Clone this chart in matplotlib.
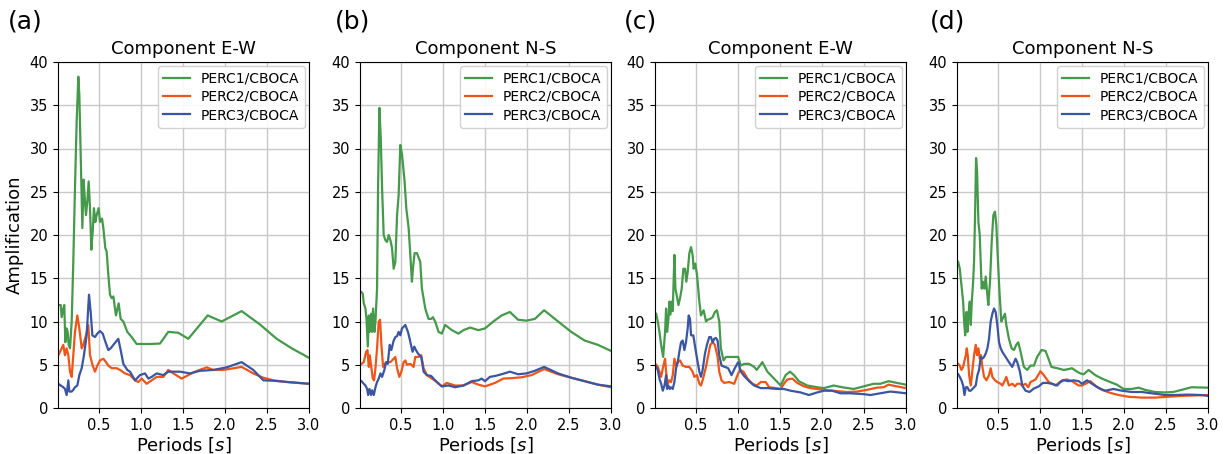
import matplotlib
matplotlib.use("Agg")
import matplotlib.pyplot as plt

# ---------------- data ----------------
# Panel (a) Component E-W
a_p1_t = [0.016,0.044,0.056,0.075,0.087,0.099,0.115,0.127,0.139,0.155,0.175,0.194,0.214,0.234,0.254,0.266,0.282,0.302,0.317,0.333,0.345,0.361,0.377,0.393,0.409,0.425,0.44,0.456,0.472,0.496,0.512,0.536,0.552,0.575,0.591,0.611,0.631,0.651,0.671,0.702,0.734,0.758,0.79,0.837,0.889,0.948,1.107,1.226,1.325,1.444,1.563,1.794,1.96,2.198,2.417,2.615,2.794,3.0]
a_p1_v = [11.9,11.9,10.5,11.5,11.9,7.6,9.2,8.8,7.3,6.9,10.0,16.9,25.4,33.1,38.3,36.2,29.3,20.8,26.4,23.9,22.3,23.9,26.2,23.1,18.3,20.4,23.1,21.5,22.3,23.1,21.5,21.9,20.8,18.5,18.1,15.4,13.1,12.7,12.9,10.7,12.1,10.3,10.0,8.8,8.2,7.4,7.4,7.45,8.8,8.7,8.0,10.7,10.0,11.2,9.65,8.0,6.9,5.8]
a_p2_t = [0.016,0.056,0.075,0.095,0.115,0.135,0.155,0.175,0.194,0.214,0.242,0.266,0.294,0.313,0.345,0.373,0.393,0.425,0.452,0.48,0.512,0.552,0.583,0.611,0.651,0.71,0.75,0.81,0.869,0.929,0.968,1.008,1.067,1.127,1.187,1.266,1.325,1.385,1.484,1.563,1.643,1.782,1.861,1.98,2.198,2.337,2.456,2.575,2.734,3.0]
a_p2_v = [6.1,6.9,7.3,6.1,6.9,6.1,4.2,3.6,6.1,8.8,10.7,9.2,6.9,7.3,8.4,9.6,6.1,4.9,4.2,4.9,5.5,5.7,5.3,4.9,4.6,4.6,4.4,4.0,3.8,3.2,3.0,3.4,2.8,3.2,3.6,3.6,4.4,4.0,3.4,3.8,4.2,4.7,4.4,4.4,4.75,4.0,3.5,3.2,3.0,2.8]
a_p3_t = [0.016,0.044,0.075,0.095,0.115,0.135,0.147,0.175,0.194,0.214,0.242,0.266,0.294,0.321,0.353,0.381,0.401,0.421,0.452,0.48,0.512,0.544,0.571,0.611,0.639,0.671,0.73,0.758,0.79,0.837,0.869,0.929,0.988,1.048,1.087,1.127,1.187,1.266,1.325,1.464,1.583,1.702,1.861,2.02,2.198,2.337,2.456,2.575,3.0]
a_p3_v = [2.8,2.6,2.4,2.2,1.5,3.2,1.9,1.9,2.1,2.4,2.6,3.8,4.6,6.1,8.4,13.1,11.1,8.4,8.2,8.6,8.9,8.6,7.8,6.7,6.9,7.3,8.0,6.7,5.1,4.4,4.2,3.2,3.8,4.0,3.4,3.6,4.0,3.8,4.2,4.2,4.0,4.3,4.4,4.7,5.3,4.4,3.2,3.15,2.8]

# Panel (b) Component N-S
b_p1_t = [0.03,0.045,0.057,0.077,0.089,0.105,0.117,0.128,0.144,0.156,0.168,0.184,0.196,0.215,0.227,0.243,0.259,0.275,0.294,0.314,0.334,0.354,0.374,0.393,0.413,0.433,0.453,0.472,0.492,0.512,0.543,0.563,0.591,0.611,0.63,0.642,0.662,0.69,0.729,0.749,0.789,0.828,0.86,0.879,0.907,0.947,0.986,1.026,1.105,1.184,1.243,1.322,1.421,1.5,1.599,1.698,1.796,1.895,1.994,2.093,2.204,2.37,2.527,2.686,2.844,3.0]
b_p1_v = [13.4,13.2,12.1,11.5,10.3,7.1,10.7,8.8,10.9,8.8,11.5,8.8,10.0,13.8,25.4,34.7,31.2,25.4,20.0,19.4,19.2,20.0,19.4,18.5,16.1,16.9,22.3,24.6,30.4,29.3,26.2,23.1,20.8,17.7,14.6,16.1,17.9,17.9,16.9,13.8,11.5,10.3,10.3,10.5,10.0,8.8,8.6,9.6,9.0,8.6,9.0,9.3,9.0,9.2,10.0,10.7,11.1,10.2,10.1,10.3,11.3,10.0,8.8,7.8,7.3,6.6]
b_p2_t = [0.03,0.057,0.085,0.101,0.117,0.128,0.148,0.164,0.18,0.196,0.215,0.235,0.251,0.267,0.287,0.306,0.334,0.374,0.413,0.433,0.453,0.48,0.504,0.532,0.551,0.571,0.611,0.65,0.67,0.709,0.741,0.769,0.808,0.868,0.927,0.986,1.045,1.144,1.243,1.342,1.421,1.5,1.619,1.717,1.816,1.935,2.053,2.204,2.37,2.527,2.686,2.844,3.0]
b_p2_v = [5.1,5.3,6.5,6.7,4.75,6.1,4.6,3.4,3.2,4.6,6.9,10.0,10.2,7.3,4.75,5.1,5.3,5.3,5.7,5.9,4.6,3.6,4.2,5.3,5.5,5.0,5.1,4.75,5.9,5.9,6.1,4.6,3.8,3.4,3.0,2.5,2.9,2.6,2.6,3.0,2.7,2.5,2.9,3.4,3.45,3.55,3.8,4.5,3.9,3.5,3.1,2.7,2.4]
b_p3_t = [0.03,0.057,0.077,0.097,0.109,0.125,0.144,0.156,0.176,0.196,0.215,0.235,0.255,0.275,0.302,0.322,0.342,0.366,0.385,0.413,0.433,0.453,0.472,0.492,0.512,0.551,0.583,0.603,0.623,0.638,0.658,0.678,0.702,0.741,0.769,0.808,0.86,0.887,0.927,0.986,1.065,1.144,1.243,1.342,1.421,1.46,1.5,1.559,1.619,1.698,1.796,1.895,1.994,2.093,2.204,2.37,2.527,2.686,2.844,3.0]
b_p3_v = [3.1,2.8,2.6,2.2,1.5,2.2,1.5,2.05,1.5,2.4,3.0,3.4,4.0,3.6,4.4,5.3,5.1,7.3,6.7,7.8,8.2,8.3,8.8,8.4,9.2,9.6,8.8,8.0,7.1,6.5,7.1,6.7,6.3,5.9,4.2,3.8,3.7,3.4,3.0,2.5,2.6,2.4,2.6,3.1,3.2,3.4,3.1,3.6,3.7,3.9,4.2,3.9,4.0,4.3,4.75,4.0,3.5,3.1,2.7,2.5]

# Panel (c) Component E-W
c_p1_t = [0.026,0.045,0.065,0.085,0.109,0.132,0.144,0.156,0.172,0.184,0.196,0.211,0.223,0.243,0.255,0.271,0.291,0.31,0.33,0.35,0.37,0.385,0.401,0.421,0.441,0.46,0.472,0.492,0.512,0.54,0.559,0.591,0.619,0.638,0.67,0.698,0.725,0.749,0.777,0.796,0.828,0.856,0.915,1.002,1.034,1.073,1.132,1.192,1.223,1.29,1.35,1.429,1.508,1.567,1.619,1.666,1.725,1.824,1.943,2.022,2.14,2.239,2.377,2.496,2.615,2.694,2.792,2.891,3.0]
c_p1_v = [10.9,10.0,8.8,7.3,5.9,8.8,11.5,8.8,10.3,12.3,10.8,12.3,11.2,17.7,13.8,13.0,11.9,12.7,13.8,16.1,16.1,14.6,15.7,17.9,18.6,17.7,16.1,16.7,15.4,12.3,10.7,11.3,10.0,10.2,10.3,10.5,11.1,11.3,10.0,6.9,5.5,5.9,5.9,5.9,4.9,5.1,5.1,4.75,4.4,5.3,4.2,3.4,2.6,3.8,4.2,3.8,3.1,2.6,2.4,2.3,2.6,2.4,2.2,2.5,2.8,2.8,3.1,2.9,2.7]
c_p2_t = [0.026,0.045,0.065,0.085,0.105,0.132,0.144,0.164,0.184,0.204,0.223,0.243,0.263,0.283,0.31,0.342,0.381,0.421,0.46,0.48,0.512,0.54,0.559,0.579,0.619,0.646,0.67,0.698,0.725,0.757,0.777,0.804,0.836,0.895,0.955,1.002,1.026,1.065,1.113,1.172,1.223,1.271,1.33,1.37,1.449,1.508,1.547,1.587,1.646,1.706,1.785,1.864,1.943,2.061,2.18,2.298,2.417,2.536,2.654,2.733,2.792,2.891,3.0]
c_p2_v = [5.0,4.75,4.2,3.6,4.6,5.7,4.2,2.8,3.2,3.0,3.8,5.7,4.9,5.3,5.5,4.9,4.75,4.75,4.2,3.6,3.8,2.8,2.6,3.2,4.75,6.1,7.3,7.6,7.3,5.9,4.2,3.2,2.9,3.0,2.8,4.0,4.4,4.2,3.4,2.8,2.6,3.0,3.0,2.4,2.3,2.2,2.8,3.3,3.4,2.9,2.5,2.3,2.2,2.05,1.95,1.85,1.9,2.1,2.35,2.4,2.7,2.5,2.3]
c_p3_t = [0.026,0.045,0.065,0.085,0.105,0.125,0.144,0.156,0.172,0.188,0.204,0.223,0.243,0.263,0.283,0.302,0.322,0.342,0.362,0.381,0.401,0.413,0.429,0.441,0.468,0.492,0.52,0.54,0.559,0.579,0.607,0.63,0.658,0.678,0.698,0.717,0.737,0.757,0.777,0.804,0.844,0.883,0.923,0.962,1.002,1.034,1.073,1.132,1.192,1.271,1.35,1.468,1.547,1.626,1.745,1.844,1.943,2.022,2.121,2.219,2.338,2.496,2.575,2.694,2.812,2.911,3.0]
c_p3_v = [4.75,4.4,3.4,2.8,2.0,2.6,3.8,2.2,2.6,2.2,2.4,2.2,3.0,4.6,5.3,6.5,7.6,7.8,6.7,7.6,9.2,10.7,10.3,8.4,8.4,6.9,5.3,4.2,3.6,4.4,6.3,7.3,8.2,8.2,7.6,8.0,8.1,7.8,6.1,4.9,4.75,4.6,3.8,4.6,5.3,4.2,3.7,3.1,2.6,2.3,2.3,2.2,2.2,2.0,1.8,1.5,1.8,2.0,2.0,1.7,1.7,1.6,1.5,1.7,1.9,1.8,1.7]

# Panel (d) Component N-S
d_p1_t = [0.026,0.045,0.065,0.085,0.097,0.109,0.125,0.136,0.148,0.164,0.176,0.188,0.204,0.215,0.227,0.239,0.251,0.267,0.283,0.294,0.306,0.322,0.338,0.354,0.37,0.385,0.405,0.425,0.445,0.464,0.48,0.5,0.52,0.54,0.559,0.583,0.599,0.63,0.662,0.69,0.717,0.741,0.769,0.808,0.848,0.887,0.927,0.966,1.018,1.065,1.097,1.136,1.204,1.283,1.342,1.381,1.441,1.48,1.52,1.579,1.658,1.737,1.836,1.915,1.994,2.093,2.172,2.251,2.37,2.488,2.587,2.686,2.804,3.0]
d_p1_v = [16.9,16.1,14.2,12.3,10.0,8.4,11.1,8.8,10.8,12.3,9.6,12.3,14.6,16.9,22.3,28.9,27.3,21.5,20.0,16.9,13.8,14.6,13.8,15.2,13.4,11.9,14.6,19.2,22.3,22.7,21.2,16.9,13.0,10.0,10.4,10.9,9.6,8.0,6.9,6.7,7.3,7.6,6.5,4.75,4.4,4.9,4.9,5.9,6.7,6.6,5.8,4.75,4.6,4.4,4.5,4.6,4.2,4.0,3.9,4.4,3.8,3.4,3.0,2.7,2.2,2.2,2.35,2.1,1.85,1.8,1.85,2.1,2.4,2.35]
d_p2_t = [0.026,0.045,0.065,0.085,0.097,0.117,0.128,0.14,0.156,0.176,0.196,0.215,0.235,0.251,0.267,0.283,0.298,0.314,0.334,0.362,0.393,0.413,0.433,0.464,0.492,0.532,0.551,0.583,0.599,0.63,0.67,0.702,0.729,0.761,0.789,0.828,0.86,0.887,0.947,1.006,1.045,1.105,1.184,1.263,1.322,1.381,1.46,1.5,1.54,1.599,1.658,1.737,1.836,1.935,2.053,2.211,2.37,2.528,2.686,2.844,3.0]
d_p2_v = [5.1,4.9,4.4,4.75,5.3,6.1,6.9,6.1,3.8,2.6,4.4,6.1,7.3,6.1,6.9,5.7,6.1,4.75,3.6,3.2,3.8,4.6,3.6,3.2,3.0,2.8,2.6,3.2,3.6,2.6,2.8,2.5,2.8,2.8,2.6,2.8,2.4,3.0,3.3,4.25,3.8,3.0,2.6,3.2,3.3,3.1,2.6,2.6,2.8,3.1,2.6,2.1,1.75,1.5,1.3,1.2,1.2,1.3,1.4,1.45,1.5]
d_p3_t = [0.026,0.045,0.065,0.085,0.101,0.117,0.136,0.156,0.176,0.196,0.215,0.235,0.255,0.275,0.294,0.314,0.334,0.354,0.374,0.393,0.413,0.433,0.453,0.472,0.492,0.512,0.532,0.551,0.591,0.63,0.67,0.709,0.729,0.761,0.789,0.828,0.875,0.927,0.986,1.034,1.085,1.144,1.204,1.243,1.283,1.342,1.401,1.46,1.5,1.559,1.619,1.698,1.777,1.875,1.974,2.093,2.211,2.37,2.488,2.607,2.765,2.923,3.0]
d_p3_v = [3.9,3.6,3.2,2.6,1.5,2.4,2.4,2.0,2.0,2.2,2.4,2.6,3.8,4.4,5.9,5.7,5.9,6.3,6.9,8.0,10.0,10.9,11.5,11.1,9.6,7.6,6.9,6.5,5.9,5.3,4.75,5.7,5.3,4.2,2.6,2.0,1.85,2.25,2.5,2.9,2.9,2.8,2.6,3.0,3.2,3.1,3.2,3.1,2.8,3.2,2.8,2.3,2.0,2.2,2.0,1.85,1.85,1.65,1.5,1.5,1.55,1.5,1.4]

panel_letters = ["(a)", "(b)", "(c)", "(d)"]
titles = ["Component E-W", "Component N-S", "Component E-W", "Component N-S"]
series_labels = ["PERC1/CBOCA", "PERC2/CBOCA", "PERC3/CBOCA"]
x_ticks = [0.5, 1.0, 1.5, 2.0, 2.5, 3.0]
y_ticks = [0, 5, 10, 15, 20, 25, 30, 35, 40]

panels = [
    [(a_p1_t, a_p1_v), (a_p2_t, a_p2_v), (a_p3_t, a_p3_v)],
    [(b_p1_t, b_p1_v), (b_p2_t, b_p2_v), (b_p3_t, b_p3_v)],
    [(c_p1_t, c_p1_v), (c_p2_t, c_p2_v), (c_p3_t, c_p3_v)],
    [(d_p1_t, d_p1_v), (d_p2_t, d_p2_v), (d_p3_t, d_p3_v)],
]

colors = ["#45994a", "#ee5518", "#3a56a2"]

# ---------------- figure ----------------
fig = plt.figure(figsize=(12.27, 4.54), dpi=100)
W, H = 1227.0, 454.0
lefts = [58, 360, 655, 957]
ax_w = 251
ax_bottom = 408
ax_top = 62
letter_x = [8, 335, 624, 930]

for i, (left, data) in enumerate(zip(lefts, panels)):
    ax = fig.add_axes([left / W, 1 - ax_bottom / H, ax_w / W, (ax_bottom - ax_top) / H])
    for (t, v), c, lab in zip(data, colors, series_labels):
        ax.plot(t, v, color=c, lw=1.6, label=lab)
    ax.set_xlim(0.012, 3.0)
    ax.set_ylim(0, 40)
    ax.set_xticks(x_ticks)
    ax.set_yticks(y_ticks)
    ax.tick_params(labelsize=10.5)
    ax.grid(True, color="#c8c8c8", lw=1.0)
    ax.set_axisbelow(True)
    ax.set_title(titles[i], fontsize=13, pad=6)
    ax.set_xlabel(r"Periods [$s$]", fontsize=13, labelpad=2)
    if i == 0:
        ax.set_ylabel("Amplification", fontsize=13)
    ax.legend(loc="upper right", fontsize=10, handlelength=1.9,
              borderaxespad=0.3, labelspacing=0.3, framealpha=0.9)
    fig.text(letter_x[i] / W, 1 - 22 / H, panel_letters[i], fontsize=18,
             ha="left", va="center")

fig.savefig("out.png", dpi=100)
